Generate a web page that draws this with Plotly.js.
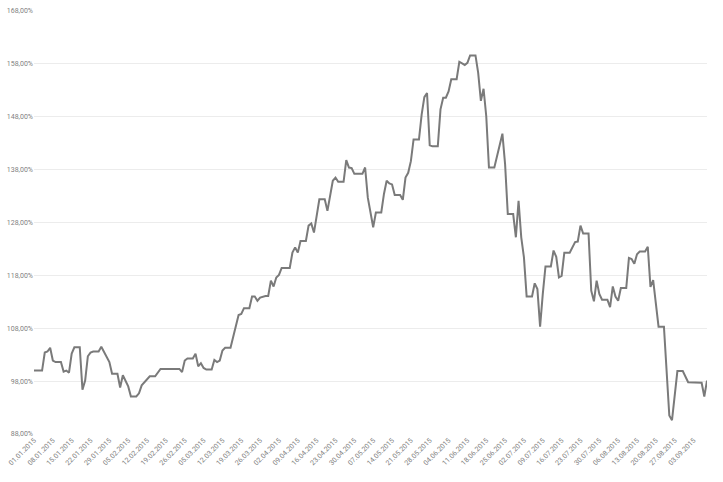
<!DOCTYPE html>
<html>
<head>
<meta charset="utf-8">
<script src="https://cdn.plot.ly/plotly-3.0.1.min.js"></script>
<style>html,body{margin:0;padding:0;background:#fff;}#chart{width:723px;height:482px;}</style>
</head>
<body>
<div id="chart"></div>
<script>
const dates = [
 "2015-01-01","2015-01-04","2015-01-05","2015-01-06","2015-01-07","2015-01-08","2015-01-09","2015-01-11",
 "2015-01-12","2015-01-13","2015-01-14","2015-01-15","2015-01-16","2015-01-18","2015-01-19","2015-01-20",
 "2015-01-21","2015-01-22","2015-01-23","2015-01-25","2015-01-26","2015-01-27","2015-01-29","2015-01-30",
 "2015-02-01","2015-02-02","2015-02-03","2015-02-05","2015-02-06","2015-02-08","2015-02-09","2015-02-10",
 "2015-02-11","2015-02-13","2015-02-15","2015-02-17","2015-02-24","2015-02-25","2015-02-26","2015-02-27",
 "2015-03-01","2015-03-02","2015-03-03","2015-03-04","2015-03-05","2015-03-06","2015-03-08","2015-03-09",
 "2015-03-10","2015-03-11","2015-03-12","2015-03-13","2015-03-15","2015-03-18","2015-03-19","2015-03-20",
 "2015-03-22","2015-03-23","2015-03-24","2015-03-25","2015-03-26","2015-03-28","2015-03-29","2015-03-30",
 "2015-03-31","2015-04-01","2015-04-02","2015-04-03","2015-04-06","2015-04-07","2015-04-08","2015-04-09",
 "2015-04-10","2015-04-12","2015-04-13","2015-04-14","2015-04-15","2015-04-17","2015-04-19","2015-04-20",
 "2015-04-22","2015-04-23","2015-04-24","2015-04-26","2015-04-27","2015-04-28","2015-04-29","2015-04-30",
 "2015-05-03","2015-05-04","2015-05-05","2015-05-06","2015-05-07","2015-05-08","2015-05-10","2015-05-11",
 "2015-05-12","2015-05-13","2015-05-14","2015-05-15","2015-05-17","2015-05-18","2015-05-19","2015-05-20",
 "2015-05-21","2015-05-22","2015-05-24","2015-05-25","2015-05-26","2015-05-27","2015-05-28","2015-05-29",
 "2015-05-31","2015-06-01","2015-06-02","2015-06-03","2015-06-04","2015-06-05","2015-06-07","2015-06-08",
 "2015-06-10","2015-06-11","2015-06-12","2015-06-14","2015-06-15","2015-06-16","2015-06-17","2015-06-18",
 "2015-06-19","2015-06-21","2015-06-24","2015-06-25","2015-06-26","2015-06-28","2015-06-29","2015-06-30",
 "2015-07-01","2015-07-02","2015-07-03","2015-07-05","2015-07-06","2015-07-07","2015-07-08","2015-07-09",
 "2015-07-10","2015-07-12","2015-07-13","2015-07-14","2015-07-15","2015-07-16","2015-07-17","2015-07-19",
 "2015-07-20","2015-07-21","2015-07-22","2015-07-23","2015-07-24","2015-07-26","2015-07-27","2015-07-28",
 "2015-07-29","2015-07-30","2015-07-31","2015-08-02","2015-08-03","2015-08-04","2015-08-05","2015-08-06",
 "2015-08-07","2015-08-09","2015-08-10","2015-08-11","2015-08-12","2015-08-13","2015-08-14","2015-08-16",
 "2015-08-17","2015-08-18","2015-08-19","2015-08-21","2015-08-23","2015-08-25","2015-08-26","2015-08-28",
 "2015-08-30","2015-09-01","2015-09-06","2015-09-07","2015-09-08"
];
const values = [
 100.0,100.0,103.4,103.6,104.3,101.9,101.6,101.6,
 99.8,100.0,99.6,103.2,104.4,104.4,96.4,98.1,
 102.7,103.4,103.6,103.6,104.5,103.5,101.6,99.4,
 99.4,96.8,99.1,97.0,95.1,95.1,95.7,97.2,
 97.8,98.9,98.9,100.3,100.3,99.7,101.9,102.3,
 102.3,103.2,100.8,101.4,100.5,100.2,100.2,102.0,
 101.6,101.9,103.8,104.3,104.3,110.5,110.7,111.8,
 111.8,114.0,114.0,113.2,113.8,114.1,114.1,117.0,
 115.9,117.6,118.1,119.4,119.4,122.3,123.3,122.3,
 124.5,124.5,127.4,127.8,126.1,132.4,132.4,130.2,
 135.9,136.5,135.7,135.7,139.8,138.4,138.3,137.2,
 137.2,138.4,132.7,130.2,127.1,129.9,129.9,133.4,
 135.9,135.4,135.2,133.2,133.2,132.3,136.5,137.4,
 139.6,143.7,143.7,148.4,151.7,152.5,142.6,142.4,
 142.4,149.4,151.6,151.6,152.8,155.1,155.1,158.4,
 157.8,158.2,159.6,159.6,156.3,151.0,153.3,148.1,
 138.4,138.4,144.8,139.0,129.6,129.6,125.2,132.1,
 125.2,121.4,114.0,114.0,116.5,115.4,108.3,114.5,
 119.7,119.7,122.7,121.5,117.6,117.9,122.3,122.3,
 123.4,124.3,124.4,127.4,125.9,125.9,115.1,113.1,
 117.0,114.5,113.4,113.4,112.0,115.9,114.0,113.2,
 115.6,115.6,121.3,121.1,120.2,122.0,122.5,122.5,
 123.4,115.8,117.1,108.3,108.3,91.5,90.6,99.9,
 99.9,97.8,97.7,95.1,98.1
];

const trace = {
  x: dates, y: values, type: 'scatter', mode: 'lines',
  line: {color: '#7a7a7a', width: 2},
  hoverinfo: 'skip'
};
const tickFont = {family: 'Roboto, "Liberation Sans", sans-serif', size: 7, color: '#7f7f7f'};
const layout = {
  width: 723, height: 482,
  margin: {l: 34, r: 16, t: 11, b: 48},
  paper_bgcolor: '#ffffff', plot_bgcolor: '#ffffff',
  separators: ',.',
  showlegend: false,
  xaxis: {
    type: 'date',
    range: ['2015-01-01', '2015-09-08'],
    tick0: '2015-01-01',
    dtick: 7 * 86400000,
    tickformat: '%d.%m.%Y',
    tickangle: -45,
    showgrid: false, zeroline: false, showline: false,
    ticks: '', tickfont: tickFont
  },
  yaxis: {
    range: [88, 168],
    tick0: 88, dtick: 10,
    tickformat: '.2f', ticksuffix: '%',
    showgrid: true, gridcolor: '#ececec', gridwidth: 1,
    zeroline: false, showline: false, ticks: '',
    tickfont: tickFont
  }
};
Plotly.newPlot('chart', [trace], layout, {staticPlot: true, displayModeBar: false});
</script>
</body>
</html>
